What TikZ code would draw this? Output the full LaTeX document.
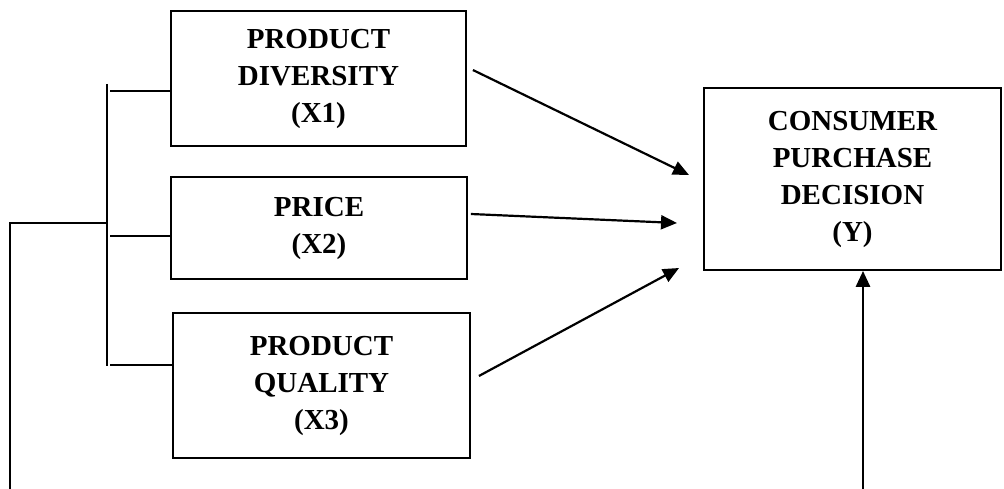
\documentclass[tikz,border=0pt]{standalone}
\usepackage{fontspec}
\setmainfont{Liberation Serif}
\usetikzlibrary{arrows.meta,positioning}

\begin{document}
\begin{tikzpicture}[x=1pt,y=-1pt]
    \tikzset{
        varbox/.style={rectangle, draw, line width=1.8pt, align=center, inner sep=0pt,
            font=\fontsize{29}{37}\selectfont\bfseries},
        link/.style={line width=2.2pt, -{Triangle[length=16pt,width=14pt]}},
        bracket/.style={line width=2.8pt}
    }
    \useasboundingbox (0,0) rectangle (1004,489);
    \node(x1) [varbox, minimum width=295pt, minimum height=135pt] at (318.5,78.5) {PRODUCT\\DIVERSITY\\(X1)};
    \node(x2) [varbox, minimum width=296pt, minimum height=102pt] at (319,228) {PRICE\\(X2)};
    \node(x3) [varbox, minimum width=297pt, minimum height=145pt] at (321.5,385.5) {PRODUCT\\QUALITY\\(X3)};
    \node(y) [varbox, minimum width=297pt, minimum height=182pt] at (852.5,179) {CONSUMER\\PURCHASE\\DECISION\\(Y)};

    % arrow tips in front of the dependent box
    \coordinate(t1) at (689,175);
    \coordinate(t2) at (677,223);
    \coordinate(t3) at (679,268);
    \draw[link] ([shift={(6pt,8.5pt)}]x1.east) -- (t1);
    \draw[link] ([shift={(3pt,14pt)}]x2.east) -- (t2);
    \draw[link] ([shift={(8pt,9.5pt)}]x3.east) -- (t3);

    % bracket on the left
    \coordinate(btop) at (107,84);
    \coordinate(bbot) at (107,366);
    \coordinate(bmid) at (107,223);
    \coordinate(lcorner) at (10,223);
    \coordinate(lfoot) at (10,489);
    \draw[bracket] (btop) -- (bbot);
    \draw[bracket] (110,91) -- ([yshift=-12.5pt]x1.west);
    \draw[bracket] (110,236) -- ([yshift=-8pt]x2.west);
    \draw[bracket] (110,365) -- ([yshift=20.5pt]x3.west);
    \draw[bracket] (lfoot) -- (lcorner) -- (bmid);

    % arrow from below
    \coordinate(rfoot) at (863,489);
    \draw[bracket, -{Triangle[length=16pt,width=14pt]}] (rfoot) -- ([xshift=10.5pt]y.south);
\end{tikzpicture}
\end{document}
